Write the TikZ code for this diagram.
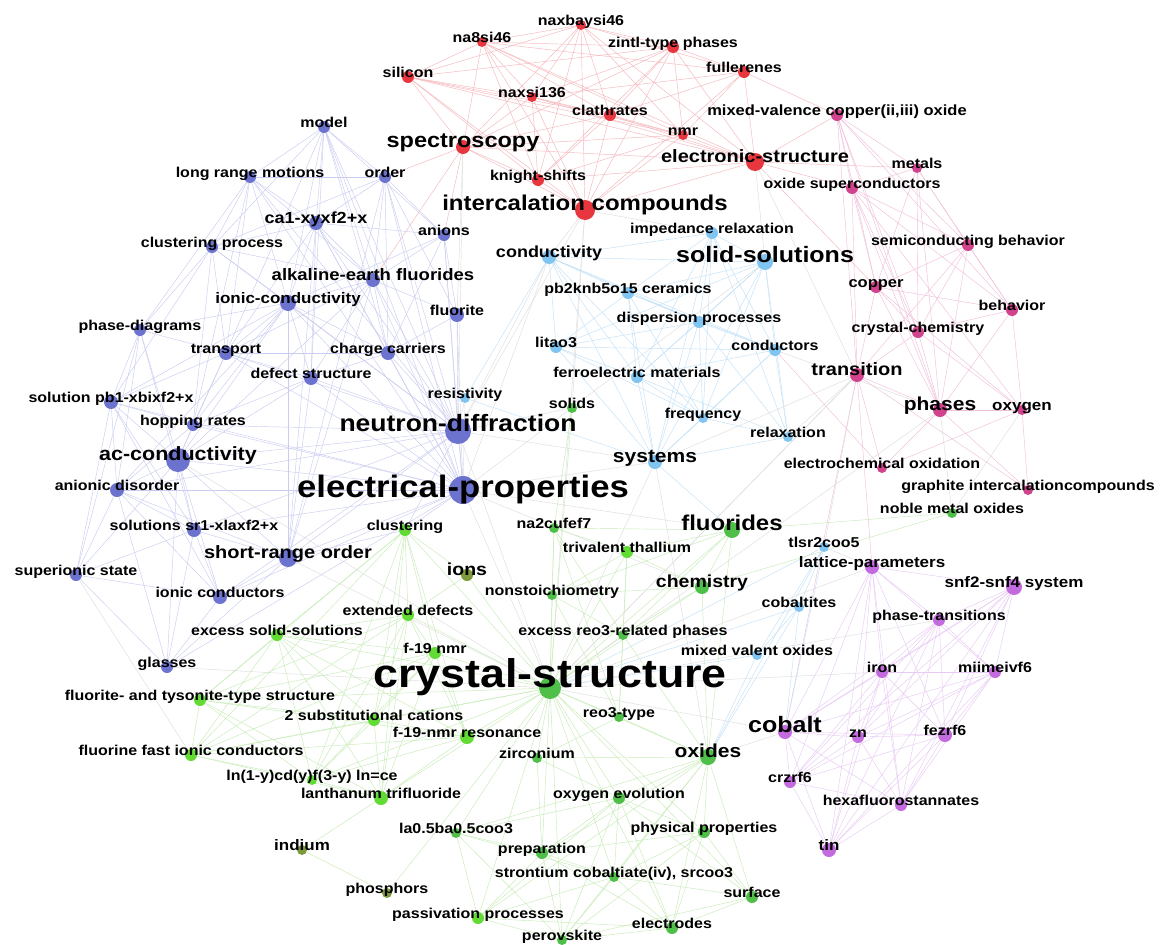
\documentclass[tikz,border=0pt]{standalone}
\usepackage{fontspec}
\setmainfont{Liberation Sans}[FakeStretch=1.12]
\usetikzlibrary{backgrounds}
\definecolor{cR}{HTML}{E8363F}
\definecolor{cB}{HTML}{6C73CF}
\definecolor{cL}{HTML}{80C5F2}
\definecolor{cG}{HTML}{62DC35}
\definecolor{cGd}{HTML}{4FBF4A}
\definecolor{cGo}{HTML}{7E9A3C}
\definecolor{cM}{HTML}{D2438E}
\definecolor{cV}{HTML}{C46ADF}
\definecolor{eR}{HTML}{F6B8BC}
\definecolor{eB}{HTML}{CACDF1}
\definecolor{eL}{HTML}{C2E2F8}
\definecolor{eG}{HTML}{C8ECB8}
\definecolor{eM}{HTML}{F0C0DB}
\definecolor{eV}{HTML}{E8CBF4}
\definecolor{eX}{HTML}{DEDEDE}
\tikzset{
  kwdot/.style={circle, inner sep=0pt, draw=none},
  kwlab/.style={anchor=base, inner sep=0pt, text=black},
  lnR/.style={draw=eR, line width=0.45pt},
  lnB/.style={draw=eB, line width=0.45pt},
  lnL/.style={draw=eL, line width=0.45pt},
  lnG/.style={draw=eG, line width=0.45pt},
  lnM/.style={draw=eM, line width=0.45pt},
  lnV/.style={draw=eV, line width=0.45pt},
  lnX/.style={draw=eX, line width=0.45pt},
}
% #1 baseline shift, #2 id, #3 x, #4 y, #5 colour, #6 radius, #7 nominal font size, #8 text
\newcommand{\kw}[8][0]{%
  \pgfmathsetmacro\kwfs{#7/1.12}%
  \node[kwdot, fill=#5, minimum size=2*#6] (#2) at (#3,#4) {};
  \node[kwlab, font=\fontsize{\kwfs}{\kwfs}\selectfont\bfseries] (#2t) at (#3,#4+#1) {#8};
}
\begin{document}
\begin{tikzpicture}[x=1pt,y=-1pt]
\useasboundingbox (0,0) rectangle (1163,945);
% ---------- red cluster
\kw{nb}{581}{25}{cR}{5}{16}{naxbaysi46}
\kw{nae}{482}{42}{cR}{5}{16}{na8si46}
\kw{zin}{673}{47}{cR}{6}{16}{zintl-type phases}
\kw{sil}{408}{77}{cR}{6}{16}{silicon}
\kw{ful}{744}{72}{cR}{6}{16}{fullerenes}
\kw{nxs}{532}{97}{cR}{5}{16}{naxsi136}
\kw{cla}{610}{115}{cR}{6}{16}{clathrates}
\kw{nmr}{683}{135}{cR}{5}{16}{nmr}
\kw{spe}{463}{147}{cR}{7}{23.5}{spectroscopy}
\kw{kni}{538}{180}{cR}{6}{16}{knight-shifts}
\kw{els}{755}{162}{cR}{9}{20}{electronic-structure}
\kw{ico}{585}{210}{cR}{10}{24}{intercalation compounds}
% ---------- magenta cluster
\kw{mvc}{837}{115}{cM}{6}{16.5}{mixed-valence copper(ii,iii) oxide}
\kw{met}{917}{168}{cM}{5}{16}{metals}
\kw{osc}{852}{188}{cM}{6}{16}{oxide superconductors}
\kw{scb}{968}{245}{cM}{6}{16}{semiconducting behavior}
\kw{cop}{876}{287}{cM}{6}{16.5}{copper}
\kw{beh}{1012}{310}{cM}{6}{16}{behavior}
\kw{cch}{918}{332}{cM}{6}{16}{crystal-chemistry}
\kw{tra}{857}{375}{cM}{7}{20}{transition}
\kw{pha}{940}{410}{cM}{7}{21}{phases}
\kw{oxy}{1022}{410}{cM}{5}{17}{oxygen}
\kw{eco}{882}{468}{cM}{5}{16}{electrochemical oxidation}
\kw{gic}{1028}{490}{cM}{5}{16}{graphite intercalationcompounds}
% ---------- light blue cluster
\kw{imr}{712}{233}{cL}{6}{16}{impedance relaxation}
\kw{con}{549}{257}{cL}{7}{18}{conductivity}
\kw{sso}{765}{262}{cL}{8}{25}{solid-solutions}
\kw{pbk}{628}{293}{cL}{6}{16}{pb2knb5o15 ceramics}
\kw{dis}{699}{322}{cL}{6}{16}{dispersion processes}
\kw{lit}{556}{347}{cL}{6}{16}{litao3}
\kw{cnd}{775}{350}{cL}{6}{16}{conductors}
\kw{fem}{637}{377}{cL}{6}{16}{ferroelectric materials}
\kw{res}{465}{398}{cL}{5}{16}{resistivity}
\kw{fre}{703}{418}{cL}{5}{16}{frequency}
\kw{rel}{788}{437}{cL}{5}{16}{relaxation}
\kw{sys}{655}{462}{cL}{7}{21}{systems}
\kw{tls}{824}{547}{cL}{5}{16}{tlsr2coo5}
\kw{cbt}{799}{607}{cL}{5}{16}{cobaltites}
\kw{mvo}{757}{655}{cL}{5}{16}{mixed valent oxides}
% ---------- blue cluster
\kw{mod}{324}{127}{cB}{6}{16}{model}
\kw{lrm}{250}{177}{cB}{6}{16}{long range motions}
\kw{ord}{385}{177}{cB}{6}{16}{order}
\kw{cax}{316}{223}{cB}{7}{18}{ca1-xyxf2+x}
\kw{clp}{212}{247}{cB}{6}{16}{clustering process}
\kw{ani}{444}{235}{cB}{6}{16}{anions}
\kw{aef}{373}{280}{cB}{7}{18.5}{alkaline-earth fluorides}
\kw{ioc}{288}{303}{cB}{8}{17}{ionic-conductivity}
\kw{fli}{457}{315}{cB}{7}{16}{fluorite}
\kw{phd}{140}{330}{cB}{6}{16}{phase-diagrams}
\kw{trp}{226}{353}{cB}{7}{16}{transport}
\kw{chc}{388}{353}{cB}{7}{16}{charge carriers}
\kw{dfs}{311}{378}{cB}{7}{16}{defect structure}
\kw{spb}{111}{402}{cB}{7}{16}{solution pb1-xbixf2+x}
\kw{hop}{193}{425}{cB}{6}{16}{hopping rates}
\kw{ned}{458}{431}{cB}{13}{26.5}{neutron-diffraction}
\kw{acc}{178}{460}{cB}{12}{21.5}{ac-conductivity}
\kw[7]{elp}{463}{490}{cB}{14}{34.7}{electrical-properties}
\kw{and}{117}{490}{cB}{7}{16}{anionic disorder}
\kw{ssr}{194}{530}{cB}{7}{16}{solutions sr1-xlaxf2+x}
\kw{sro}{288}{558}{cB}{9}{20}{short-range order}
\kw{sup}{76}{575}{cB}{6}{16}{superionic state}
\kw{icd}{220}{597}{cB}{7}{16}{ionic conductors}
\kw{gla}{167}{667}{cB}{6}{16}{glasses}
% ---------- green cluster
\kw{nmo}{952}{513}{cGd}{5}{16}{noble metal oxides}
\kw{sld}{572}{408}{cGd}{5}{16}{solids}
\kw{clu}{405}{530}{cG}{6}{16}{clustering}
\kw{n2c}{554}{528}{cGd}{5}{16}{na2cufef7}
\kw{flu}{732}{530}{cGd}{8}{24}{fluorides}
\kw{trt}{627}{552}{cG}{6}{16}{trivalent thallium}
\kw{ion}{467}{575}{cGo}{6}{19.5}{ions}
\kw{nst}{552}{595}{cGd}{5}{16}{nonstoichiometry}
\kw{che}{702}{587}{cGd}{7}{19.5}{chemistry}
\kw{exd}{408}{615}{cG}{6}{16}{extended defects}
\kw{ess}{277}{635}{cG}{6}{16}{excess solid-solutions}
\kw{f19}{435}{653}{cG}{6}{16}{f-19 nmr}
\kw{err}{623}{635}{cGd}{5}{16}{excess reo3-related phases}
\kw[-1]{crs}{550}{688}{cGd}{11}{44.8}{crystal-structure}
\kw{ftt}{200}{700}{cG}{6}{16}{fluorite- and tysonite-type structure}
\kw{ssc}{374}{720}{cG}{6}{16}{2 substitutional cations}
\kw{rt}{619}{717}{cGd}{5}{16}{reo3-type}
\kw{fnr}{467}{737}{cG}{7}{16}{f-19-nmr resonance}
\kw{ffi}{191}{755}{cG}{6}{16}{fluorine fast ionic conductors}
\kw{zir}{537}{758}{cGd}{5}{16}{zirconium}
\kw{oxi}{708}{757}{cGd}{8}{21}{oxides}
\kw{lnc}{312}{780}{cG}{5}{16}{ln(1-y)cd(y)f(3-y) ln=ce}
\kw{ltf}{381}{798}{cG}{7}{16}{lanthanum trifluoride}
\kw{oev}{619}{798}{cGd}{6}{16}{oxygen evolution}
\kw{ind}{302}{850}{cGo}{5}{17}{indium}
\kw{lba}{456}{833}{cGd}{5}{16}{la0.5ba0.5coo3}
\kw{php}{704}{832}{cGd}{6}{16}{physical properties}
\kw{pre}{542}{853}{cGd}{6}{16}{preparation}
\kw{scs}{614}{877}{cGd}{5}{16}{strontium cobaltiate(iv), srcoo3}
\kw{pho}{387}{893}{cGo}{5}{16}{phosphors}
\kw{sur}{752}{897}{cGd}{6}{16}{surface}
\kw{pas}{478}{918}{cG}{6}{16}{passivation processes}
\kw{ele}{672}{928}{cGd}{6}{16}{electrodes}
\kw{per}{562}{940}{cGd}{5}{16}{perovskite}
% ---------- violet cluster
\kw{lpa}{872}{567}{cV}{7}{17}{lattice-parameters}
\kw{snf}{1014}{587}{cV}{8}{17}{snf2-snf4 system}
\kw{pht}{939}{620}{cV}{6}{16}{phase-transitions}
\kw{iro}{882}{672}{cV}{6}{16}{iron}
\kw{mii}{995}{672}{cV}{6}{16}{miimeivf6}
\kw{cob}{785}{732}{cV}{7}{25}{cobalt}
\kw{zn}{858}{737}{cV}{6}{16}{zn}
\kw{fez}{945}{735}{cV}{7}{16}{fezrf6}
\kw{crz}{790}{782}{cV}{6}{16}{crzrf6}
\kw{hfs}{901}{805}{cV}{6}{16}{hexafluorostannates}
\kw{tin}{829}{850}{cV}{7}{17}{tin}
% ================= connectors
\begin{pgfonlayer}{background}
\fill[white] (0,0) rectangle (1163,945);
% inter-cluster
\foreach \a/\b in {elp/crs, ned/crs, elp/sso, elp/sys, crs/pha, crs/tra, elp/flu, ned/con, elp/con,
  ned/sys, elp/che, crs/sys, ned/ico, spe/ned, spe/fli, ico/crs, ico/sld, els/sso, els/tra, tra/sys,
  tra/crs, crs/cob, crs/lpa, crs/pht, crs/iro, cob/oxi, lpa/tls, gla/crs, sup/ffi, sro/crs, acc/crs,
  sys/oxi, rel/tra, cnd/pha, oxy/nmo, pha/nmo, tra/tls, ico/con, ico/imr, elp/res, ned/res, sld/ned}
  \draw[lnX] (\a) -- (\b);
% red
\foreach \a/\b in {sil/nb, sil/nae, sil/nxs, sil/cla, sil/nmr, sil/spe, sil/kni, sil/els, sil/ico, sil/zin,
  nae/nb, nae/zin, nae/nxs, nae/cla, nae/nmr, nae/spe, nae/kni, nae/els, nae/ico, nae/ful,
  nb/zin, nb/ful, nb/nxs, nb/cla, nb/nmr, nb/kni, nb/ico, nb/els, nb/spe,
  zin/ful, zin/nxs, zin/cla, zin/nmr, zin/kni, zin/spe, zin/els, zin/ico,
  ful/nmr, ful/cla, ful/els, ful/ico, ful/mvc, ful/nxs,
  nxs/cla, nxs/nmr, nxs/kni, nxs/spe, nxs/els, nxs/ico,
  cla/nmr, cla/kni, cla/ico, cla/els, cla/spe,
  nmr/els, nmr/kni, nmr/ico, nmr/spe, spe/kni, spe/ico, spe/els,
  kni/ico, kni/els, els/ico, els/osc, els/mvc, els/met, els/cop, spe/ord, spe/aef, spe/ani}
  \draw[lnR] (\a) -- (\b);
% magenta
\foreach \a/\b in {mvc/met, mvc/osc, mvc/scb, mvc/cop, mvc/cch, mvc/tra, mvc/pha, mvc/beh,
  met/osc, met/scb, met/beh, met/cop, met/cch, met/pha,
  osc/scb, osc/cop, osc/cch, osc/tra, osc/pha, osc/beh, osc/oxy,
  scb/cop, scb/beh, scb/cch, scb/pha, scb/tra,
  cop/beh, cop/cch, cop/tra, cop/pha, cop/oxy,
  beh/cch, beh/pha, beh/oxy, cch/tra, cch/pha, cch/oxy,
  tra/pha, tra/eco, tra/gic, tra/lpa, tra/cob,
  pha/oxy, pha/eco, pha/gic, oxy/gic, oxy/eco, eco/cnd}
  \draw[lnM] (\a) -- (\b);
% blue
\foreach \a/\b in {mod/lrm, mod/ord, mod/cax, mod/aef, mod/ioc, mod/ned, mod/elp, mod/clp, mod/chc, mod/trp, mod/ani, mod/dfs,
  lrm/ord, lrm/cax, lrm/clp, lrm/ioc, lrm/aef, lrm/ned, lrm/phd, lrm/trp, lrm/hop, lrm/elp,
  ord/cax, ord/ani, ord/aef, ord/ned, ord/sro, ord/elp, ord/chc, ord/fli, ord/clp,
  cax/clp, cax/aef, cax/ioc, cax/ned, cax/dfs, cax/chc, cax/ani, cax/trp, cax/elp, cax/sro,
  clp/ioc, clp/aef, clp/phd, clp/trp, clp/ned, clp/spb, clp/hop,
  ani/aef, ani/fli, ani/ned, ani/chc, ani/elp, ani/ioc,
  aef/ioc, aef/fli, aef/chc, aef/ned, aef/elp, aef/dfs, aef/trp, aef/sro, aef/acc,
  ioc/phd, ioc/trp, ioc/dfs, ioc/chc, ioc/ned, ioc/elp, ioc/spb, ioc/acc, ioc/hop, ioc/and, ioc/sro,
  fli/chc, fli/ned, fli/elp,
  phd/trp, phd/spb, phd/acc, phd/and, phd/ssr, phd/sup,
  trp/dfs, trp/hop, trp/acc, trp/ned, trp/elp, trp/spb, trp/chc,
  chc/dfs, chc/ned, chc/elp, dfs/ned, dfs/elp, dfs/hop, dfs/acc, dfs/sro,
  spb/hop, spb/acc, spb/and, spb/ssr, spb/sup, spb/icd, spb/elp,
  hop/acc, hop/ned, hop/elp, hop/and,
  ned/elp, ned/acc, ned/sro, ned/and, ned/ssr, ned/icd,
  acc/elp, acc/and, acc/ssr, acc/sro, acc/icd, acc/sup, acc/gla,
  elp/and, elp/ssr, elp/sro, elp/icd, elp/gla,
  and/ssr, and/sup, and/icd, and/gla, and/sro,
  ssr/sro, ssr/icd, ssr/sup, ssr/gla, sro/icd, sro/gla,
  sup/icd, sup/gla, icd/gla, elp/clu, ned/clu, sro/clu}
  \draw[lnB] (\a) -- (\b);
% light blue
\foreach \a/\b in {imr/con, imr/sso, imr/pbk, imr/dis, imr/fre, imr/rel, imr/cnd, imr/fem, imr/sys,
  con/sso, con/pbk, con/dis, con/lit, con/fem, con/res, con/sys, con/fre, con/cnd,
  sso/pbk, sso/dis, sso/cnd, sso/fem, sso/rel, sso/sys, sso/fre, sso/lit,
  pbk/dis, pbk/lit, pbk/fem, pbk/fre, pbk/sys, pbk/cnd,
  dis/lit, dis/cnd, dis/fem, dis/fre, dis/rel, dis/sys,
  lit/fem, lit/fre, lit/sys, lit/cnd,
  cnd/fem, cnd/rel, cnd/fre, cnd/sys, fem/fre, fem/sys, fem/rel,
  fre/rel, fre/sys, rel/sys, res/sys, sys/flu,
  tls/cbt, tls/mvo, tls/crs, cbt/mvo, cbt/crs, mvo/crs, tls/oxi, cbt/oxi, mvo/oxi, tls/cob, cbt/cob}
  \draw[lnL] (\a) -- (\b);
% green
\foreach \a/\b in {crs/clu, crs/n2c, crs/flu, crs/trt, crs/ion, crs/nst, crs/che, crs/exd, crs/ess, crs/f19,
  crs/err, crs/ftt, crs/ssc, crs/rt, crs/fnr, crs/ffi, crs/zir, crs/oxi, crs/lnc, crs/ltf, crs/oev,
  crs/lba, crs/php, crs/pre, crs/scs, crs/pas, crs/ele, crs/sur, crs/per, crs/sld,
  clu/exd, clu/ess, clu/ion, clu/f19, clu/ftt, clu/ssc, clu/fnr, clu/ffi, clu/ltf, clu/lnc,
  exd/ess, exd/f19, exd/ftt, exd/ssc, exd/fnr, exd/ffi, exd/ltf, exd/lnc, exd/ion,
  ess/ftt, ess/ssc, ess/fnr, ess/ffi, ess/ltf, ess/lnc, ess/f19,
  f19/ftt, f19/ssc, f19/fnr, f19/ffi, f19/ltf, f19/lnc,
  ftt/ssc, ftt/fnr, ftt/ffi, ftt/ltf, ftt/lnc,
  ssc/fnr, ssc/ffi, ssc/ltf, ssc/lnc, fnr/ffi, fnr/ltf, fnr/lnc,
  ffi/ltf, ffi/lnc, lnc/ltf, ind/pho, ind/ltf, pho/crs,
  oxi/oev, oxi/php, oxi/pre, oxi/scs, oxi/sur, oxi/ele, oxi/per, oxi/pas, oxi/lba, oxi/che, oxi/flu, oxi/rt, oxi/err,
  oev/php, oev/pre, oev/scs, oev/sur, oev/ele, oev/per, oev/pas, oev/lba,
  php/pre, php/scs, php/sur, php/ele, php/per,
  pre/scs, pre/pas, pre/per, pre/ele, pre/lba,
  scs/sur, scs/ele, scs/per, scs/pas, scs/lba,
  sur/ele, sur/per, ele/per, ele/pas, pas/per, pas/lba, lba/per,
  n2c/trt, n2c/nst, n2c/flu, n2c/err, n2c/rt,
  trt/nst, trt/flu, trt/err, trt/rt, trt/che,
  nst/err, nst/rt, nst/che, nst/flu,
  flu/che, flu/nmo, flu/err, che/nmo, che/err,
  err/rt, zir/oxi, zir/oev, zir/pre, zir/rt, sld/n2c}
  \draw[lnG] (\a) -- (\b);
% violet
\foreach \a/\b in {lpa/snf, lpa/pht, lpa/iro, lpa/mii, lpa/cob, lpa/zn, lpa/fez, lpa/crz, lpa/hfs, lpa/tin,
  snf/pht, snf/iro, snf/mii, snf/cob, snf/zn, snf/fez, snf/crz, snf/hfs, snf/tin,
  pht/iro, pht/mii, pht/cob, pht/zn, pht/fez, pht/crz, pht/hfs, pht/tin,
  iro/mii, iro/cob, iro/zn, iro/fez, iro/crz, iro/hfs, iro/tin,
  mii/zn, mii/fez, mii/crz, mii/hfs, mii/tin, mii/cob,
  cob/zn, cob/fez, cob/crz, cob/hfs, cob/tin,
  zn/fez, zn/crz, zn/hfs, zn/tin,
  fez/crz, fez/hfs, fez/tin, crz/hfs, crz/tin, hfs/tin}
  \draw[lnV] (\a) -- (\b);
\end{pgfonlayer}
\end{tikzpicture}
\end{document}
